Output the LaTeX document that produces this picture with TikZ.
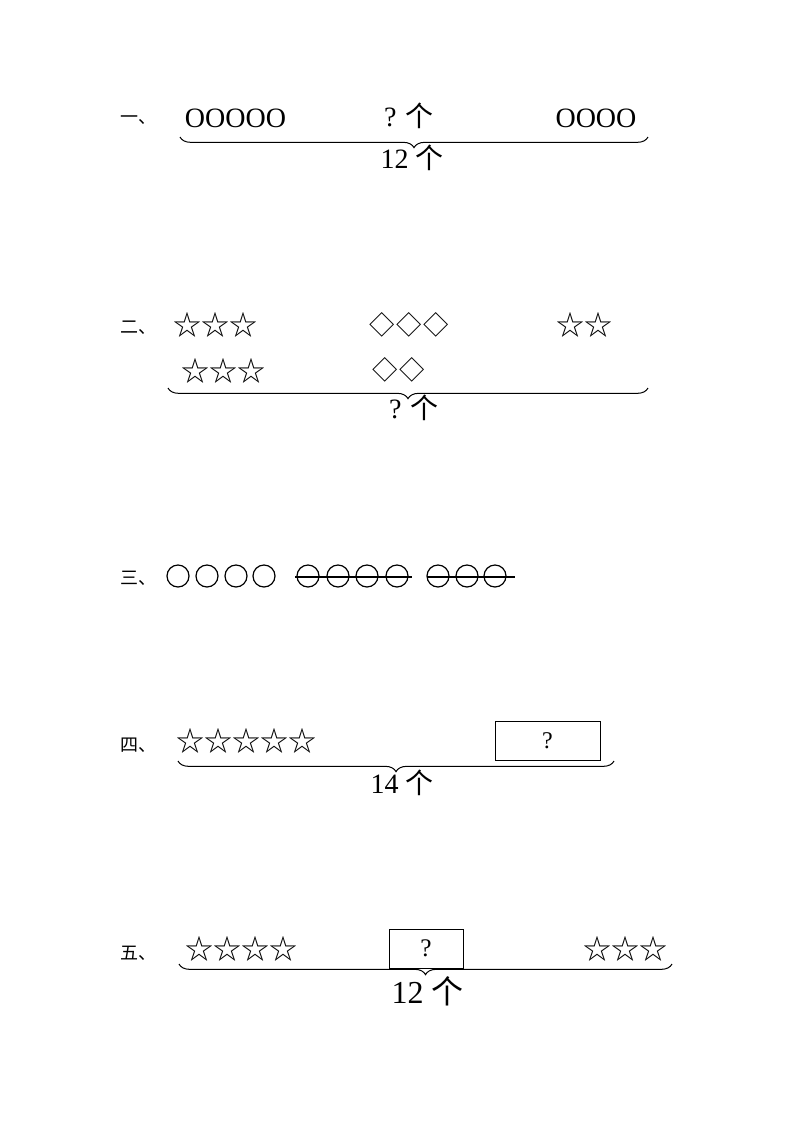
\documentclass[tikz,border=0pt]{standalone}
\usepackage{fontspec}
\setmainfont{Liberation Serif}
\newfontfamily\cjk{Noto Sans CJK SC}
\usetikzlibrary{decorations.pathreplacing}
\tikzstyle{rowlabel} = [anchor=west, inner sep=0pt, font=\cjk\fontsize{13.5}{16}\selectfont]
\tikzstyle{items} = [inner sep=0pt, font=\fontsize{21}{25}\selectfont]
\tikzstyle{symbols} = [inner sep=0pt, font=\cjk\fontsize{21}{25}\selectfont]
\tikzstyle{diamonds} = [inner sep=0pt, font=\cjk\fontsize{19}{23}\selectfont]
\tikzstyle{ring} = [circle, draw, line width=0.9pt, minimum size=16.5pt, inner sep=0pt]
\tikzstyle{qbox} = [draw, line width=0.75pt, minimum height=29.25pt, inner sep=0pt]
\tikzstyle{curly} = [decorate, decoration={brace, mirror, amplitude=8pt}, line width=0.75pt]
\tikzstyle{strike} = [line width=0.9pt]
\newcommand{\gap}{\hspace{1.5pt}}

\begin{document}
\begin{tikzpicture}[x=0.75pt, y=-0.75pt]
    \useasboundingbox (0,0) rectangle (793,1122);

    % 一
    \node (one-label) [rowlabel] at (120,120) {一、};
    \node (one-left) [items] at (235.5,118) {OOOOO};
    \node (one-mid) [items] at (409,116) {? {\cjk 个}};
    \node (one-right) [items] at (596,118) {OOOO};
    \coordinate (one-from) at (180,137);
    \coordinate (one-to) at (648,137);
    \draw [curly] (one-from) -- (one-to);
    \node (one-total) [items] at (412,157.5) {12 {\cjk 个}};

    % 二
    \node (two-label) [rowlabel] at (120,328) {二、};
    \node (two-stars-a) [symbols] at (215.5,324.5) {☆☆☆};
    \node (two-dia-a) [diamonds] at (409,325) {◇\gap◇\gap◇};
    \node (two-stars-b) [symbols] at (584,324.5) {☆☆};
    \node (two-stars-c) [symbols] at (223.5,371) {☆☆☆};
    \node (two-dia-b) [diamonds] at (399,370) {◇\gap◇};
    \coordinate (two-from) at (168,388);
    \coordinate (two-to) at (648,388);
    \draw [curly] (two-from) -- (two-to);
    \node (two-total) [items] at (414,407.5) {? {\cjk 个}};

    % 三
    \node (three-label) [rowlabel] at (120,578) {三、};
    \foreach \x in {178,207,236,264}
        \node (three-a-\x) [ring] at (\x,576) {};
    \foreach \x in {308,338,367,397}
        \node (three-b-\x) [ring] at (\x,576) {};
    \coordinate (three-b-from) at (295,577);
    \coordinate (three-b-to) at (412,577);
    \draw [strike] (three-b-from) -- (three-b-to);
    \foreach \x in {438,467,495}
        \node (three-c-\x) [ring] at (\x,576) {};
    \coordinate (three-c-from) at (427,577);
    \coordinate (three-c-to) at (515,577);
    \draw [strike] (three-c-from) -- (three-c-to);

    % 四
    \node (four-label) [rowlabel] at (120,745) {四、};
    \node (four-stars) [symbols] at (246.5,741) {☆☆☆☆☆};
    \node (four-box) [qbox, minimum width=78.75pt, font=\fontsize{18}{21}\selectfont] at (547.5,740.5) {?};
    \coordinate (four-from) at (178,761);
    \coordinate (four-to) at (614,761);
    \draw [curly] (four-from) -- (four-to);
    \node (four-total) [items] at (402,783) {14 {\cjk 个}};

    % 五
    \node (five-label) [rowlabel] at (120,953) {五、};
    \node (five-stars-a) [symbols] at (241,949) {☆☆☆☆};
    \node (five-box) [qbox, minimum width=55.5pt, font=\fontsize{19}{22}\selectfont] at (426,948.5) {?};
    \node (five-stars-b) [symbols] at (625.5,949) {☆☆☆};
    \coordinate (five-from) at (179,964);
    \coordinate (five-to) at (672,964);
    \draw [curly] (five-from) -- (five-to);
    \node (five-total) [items, font=\fontsize{24}{28}\selectfont] at (427.5,991) {12 {\cjk 个}};

\end{tikzpicture}
\end{document}
